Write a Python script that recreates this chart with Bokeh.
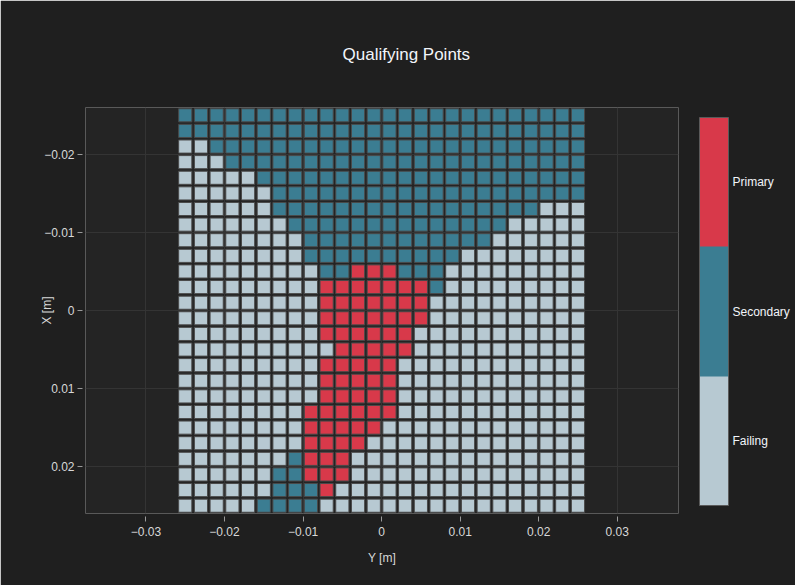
from bokeh.plotting import figure
from bokeh.models import (ColumnDataSource, Range1d, FixedTicker, CustomJSTickFormatter,
                          ColorBar, LinearColorMapper)
from bokeh.transform import factor_cmap
from bokeh.embed import file_html
from bokeh.resources import INLINE

# ---- data ----
# horizontal axis ("Y [m]") cell centres, left to right
col_positions = [-0.025, -0.023, -0.021, -0.019, -0.017, -0.015, -0.013, -0.011, -0.009,
                 -0.007, -0.005, -0.003, -0.001, 0.001, 0.003, 0.005, 0.007, 0.009,
                 0.011, 0.013, 0.015, 0.017, 0.019, 0.021, 0.023, 0.025]
# vertical axis ("X [m]") cell centres, top to bottom
row_positions = [-0.025, -0.023, -0.021, -0.019, -0.017, -0.015, -0.013, -0.011, -0.009,
                 -0.007, -0.005, -0.003, -0.001, 0.001, 0.003, 0.005, 0.007, 0.009,
                 0.011, 0.013, 0.015, 0.017, 0.019, 0.021, 0.023, 0.025]

statuses = ["Failing", "Secondary", "Primary"]
status_colors = ["#b7c9d2", "#3b7d92", "#d8394a"]
status_codes = {"F": "Failing", "S": "Secondary", "P": "Primary"}

# each row (top to bottom) as runs of (status, number of cells), left to right
row_runs = [
    [("S", 26)],
    [("S", 26)],
    [("F", 2), ("S", 24)],
    [("F", 3), ("S", 23)],
    [("F", 5), ("S", 21)],
    [("F", 6), ("S", 20)],
    [("F", 6), ("S", 17), ("F", 3)],
    [("F", 7), ("S", 14), ("F", 5)],
    [("F", 8), ("S", 12), ("F", 6)],
    [("F", 8), ("S", 10), ("F", 8)],
    [("F", 9), ("S", 2), ("P", 3), ("S", 3), ("F", 9)],
    [("F", 9), ("P", 7), ("S", 1), ("F", 9)],
    [("F", 9), ("P", 7), ("F", 10)],
    [("F", 9), ("P", 7), ("F", 10)],
    [("F", 9), ("P", 6), ("F", 11)],
    [("F", 10), ("P", 5), ("F", 11)],
    [("F", 9), ("P", 5), ("F", 12)],
    [("F", 9), ("P", 5), ("F", 12)],
    [("F", 9), ("P", 5), ("F", 12)],
    [("F", 8), ("P", 6), ("F", 12)],
    [("F", 8), ("P", 5), ("F", 13)],
    [("F", 8), ("P", 4), ("F", 14)],
    [("F", 7), ("S", 1), ("P", 3), ("F", 15)],
    [("F", 6), ("S", 2), ("P", 3), ("F", 15)],
    [("F", 6), ("S", 3), ("P", 1), ("F", 16)],
    [("F", 5), ("S", 4), ("F", 17)],
]

x_ticks = [-0.03, -0.02, -0.01, 0.0, 0.01, 0.02, 0.03]
y_ticks = [-0.02, -0.01, 0.0, 0.01, 0.02]
colorbar_ticks = [0.5, 1.5, 2.5]

# ---- build the cell table ----
cell_y, cell_x, cell_status = [], [], []
for r, runs in enumerate(row_runs):
    c = 0
    for code, n in runs:
        for _ in range(n):
            cell_y.append(col_positions[c])
            cell_x.append(row_positions[r])
            cell_status.append(status_codes[code])
            c += 1
src = ColumnDataSource(dict(ypos=cell_y, xpos=cell_x, status=cell_status))

OUTER = "#1f1f1f"
INNER = "#242424"
GRID = "#343434"
TXT = "#f2f5fa"
TICK_TXT = "#d8d8d8"
FONT = "Liberation Sans"

p = figure(frame_width=593, frame_height=406,
           min_border_left=85, min_border_right=116, min_border_top=107, min_border_bottom=72,
           x_range=Range1d(-0.0377, 0.0378), y_range=Range1d(0.026, -0.026),
           output_backend="svg", toolbar_location=None, title="Qualifying Points")
p.border_fill_color = OUTER
p.background_fill_color = INNER
p.outline_line_color = None

p.title.text_color = TXT
p.title.text_font = FONT
p.title.text_font_size = "17px"
p.title.text_font_style = "normal"
p.title.align = "left"
p.title.standoff = 84
p.title.offset = 257
p.title.vertical_align = "top"

p.rect(x="ypos", y="xpos", width=0.00168, height=0.00168, source=src,
       fill_color=factor_cmap("status", status_colors, statuses),
       line_color="#4a4a4a", line_width=1)

fmt = CustomJSTickFormatter(code="""
if (Math.abs(tick) < 1e-12) return "0";
const s = Math.abs(tick).toFixed(2);
return tick < 0 ? "\\u2212" + s : s;
""")

for ax, ticks in ((p.xaxis[0], x_ticks), (p.yaxis[0], y_ticks)):
    ax.ticker = FixedTicker(ticks=ticks)
    ax.formatter = fmt
    ax.axis_line_color = None
    ax.major_tick_line_color = "#9a9a9a"
    ax.major_tick_in = -3
    ax.major_tick_out = 8
    ax.minor_tick_line_color = None
    ax.major_label_text_font = FONT
    ax.major_label_text_font_size = "12px"
    ax.major_label_text_color = TICK_TXT
    ax.axis_label_text_font = FONT
    ax.axis_label_text_font_size = "12px"
    ax.axis_label_text_font_style = "normal"
    ax.axis_label_text_color = TICK_TXT

p.xaxis.axis_label = "Y [m]"
p.xaxis.major_label_standoff = 5
p.xaxis.axis_label_standoff = 12
p.yaxis.axis_label = "X [m]"
p.yaxis.major_label_standoff = 3
p.yaxis.axis_label_standoff = -13

p.xgrid.grid_line_color = GRID
p.ygrid.grid_line_color = GRID

mapper = LinearColorMapper(palette=status_colors, low=0, high=3)
cb = ColorBar(color_mapper=mapper, ticker=FixedTicker(ticks=colorbar_ticks),
              major_label_overrides={t: s for t, s in zip(colorbar_ticks, statuses)},
              width=29, height=388, location=(11, -2), margin=0, padding=10,
              bar_line_color="#5a5a5a", border_line_color=None,
              background_fill_alpha=0, major_tick_line_color=None,
              major_label_text_color=TXT, major_label_text_font=FONT,
              major_label_text_font_size="12px", label_standoff=4)
p.add_layout(cb, "right")

open("out.html", "w").write(file_html(p, INLINE))
